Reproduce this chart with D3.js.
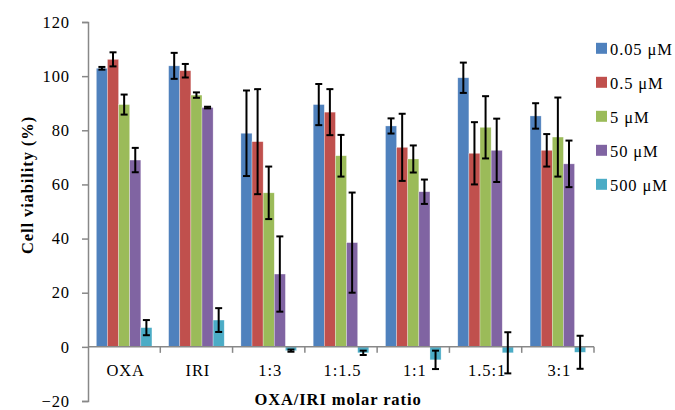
<!DOCTYPE html>
<html>
<head>
<meta charset="utf-8">
<script src="https://cdn.jsdelivr.net/npm/d3@7"></script>
<style>
	body { margin: 0; background: #fff; }
	text { font-family: "Liberation Serif", "Times New Roman", serif; fill: #000; letter-spacing: 0.9px; }
</style>
</head>
<body>
<script>

// Category names (molar ratios)
var categories = ["OXA", "IRI", "1:3", "1:1.5", "1:1", "1.5:1", "3:1"];

// Series names (concentrations)
var seriesNames = ["0.05 \u03bcM", "0.5 \u03bcM", "5 \u03bcM", "50 \u03bcM", "500 \u03bcM"];

// Mean cell viability per series, one value per category
var means005 = [102.9, 103.8, 78.9, 89.5, 81.6, 99.4, 85.3];
var means05  = [106.2, 102.0, 75.8, 86.7, 73.7, 71.5, 72.6];
var means5   = [89.5, 93.0, 56.9, 70.6, 69.4, 81.1, 77.5];
var means50  = [69.0, 88.4, 26.9, 38.5, 57.3, 72.6, 67.6];
var means500 = [7.1, 9.9, -1.4, -2.2, -4.8, -2.2, -2.0];

// Error (+/-) per series
var err005 = [0.5, 4.8, 15.8, 7.6, 2.8, 5.6, 4.7];
var err05  = [2.6, 2.5, 19.4, 8.5, 12.4, 11.5, 6.0];
var err5   = [3.7, 1.0, 9.7, 7.7, 5.0, 11.5, 14.6];
var err50  = [4.5, 0.3, 13.9, 18.5, 4.5, 11.7, 8.6];
var err500 = [2.8, 4.4, 0.4, 0.8, 3.4, 7.6, 6.1];

// Y axis ticks
var yTicks = [-20, 0, 20, 40, 60, 80, 100, 120];

var seriesColors = ["#4F81BD", "#C0504D", "#9BBB59", "#8064A2", "#4BACC6"];

var allMeans = [means005, means05, means5, means50, means500];
var allErrs = [err005, err05, err5, err50, err500];


const width = 675;
const height = 410;
const FONT = 16.5;

var canvas = d3.select('body')
	.append('svg')
	.attr('width', width)
	.attr('height', height);

var plot = { left: 88, right: 594, top: 22, bottom: 401 };

// scales
var xScale = d3.scaleBand().domain(categories).range([plot.left, plot.right]);
var xInner = d3.scaleBand().domain(seriesNames)
	.range([0, xScale.bandwidth()])
	.paddingInner(0)
	.paddingOuter(0.75);
var yScale = d3.scaleLinear().domain([-20, 120]).range([plot.bottom, plot.top]);

// flatten into bar records
var bars = [];
seriesNames.forEach(function(s, si) {
	categories.forEach(function(c, ci) {
		bars.push({ cat: c, series: s, si: si, value: allMeans[si][ci], err: allErrs[si][ci] });
	});
});

// y-axis
var yAxis = d3.axisLeft(yScale).tickValues(yTicks).tickSize(6).tickPadding(12);
var yAxisGroup = canvas.append('g')
	.attr('transform', `translate(${plot.left},0)`)
	.call(yAxis);
yAxisGroup.select('.domain').attr('stroke', '#888').attr('stroke-width', 1.5);
yAxisGroup.selectAll('.tick line').attr('stroke', '#888').attr('stroke-width', 1.5);
yAxisGroup.selectAll('.tick text')
	.attr('font-size', FONT)
	.style('font-family', '"Liberation Serif", serif');

// bars
canvas.append('g').selectAll('rect')
	.data(bars)
	.enter().append('rect')
	.attr('x', d => xScale(d.cat) + xInner(d.series))
	.attr('width', xInner.bandwidth())
	.attr('y', d => yScale(Math.max(0, d.value)))
	.attr('height', d => Math.abs(yScale(d.value) - yScale(0)))
	.attr('fill', d => seriesColors[d.si])
	.attr('stroke', 'rgba(255,255,255,0.5)')
	.attr('stroke-width', 0.6);

// x-axis (at zero line, ticks at category boundaries)
var xAxisGroup = canvas.append('g');
xAxisGroup.append('line')
	.attr('x1', plot.left).attr('x2', plot.right)
	.attr('y1', yScale(0)).attr('y2', yScale(0))
	.attr('stroke', '#888').attr('stroke-width', 1.5);
xAxisGroup.selectAll('.xtick')
	.data(categories)
	.enter().append('line')
	.attr('x1', d => xScale(d) + xScale.bandwidth())
	.attr('x2', d => xScale(d) + xScale.bandwidth())
	.attr('y1', yScale(0)).attr('y2', yScale(0) + 6)
	.attr('stroke', '#888').attr('stroke-width', 1.5);
xAxisGroup.selectAll('.xlabel')
	.data(categories)
	.enter().append('text')
	.attr('x', d => xScale(d) + xScale.bandwidth() / 2 + 1.5)
	.attr('y', yScale(0) + 29)
	.attr('text-anchor', 'middle')
	.attr('font-size', FONT)
	.text(d => d);

// error bars
var errGroup = canvas.append('g').attr('stroke', '#000').attr('stroke-width', 2);
bars.forEach(function(d) {
	var cx = xScale(d.cat) + xInner(d.series) + xInner.bandwidth() / 2;
	var yHi = yScale(d.value + d.err);
	var yLo = yScale(d.value - d.err);
	errGroup.append('line').attr('x1', cx).attr('x2', cx).attr('y1', yHi).attr('y2', yLo);
	errGroup.append('line').attr('x1', cx - 3.5).attr('x2', cx + 3.5).attr('y1', yHi).attr('y2', yHi);
	errGroup.append('line').attr('x1', cx - 3.5).attr('x2', cx + 3.5).attr('y1', yLo).attr('y2', yLo);
});

// axis titles
canvas.append('text')
	.attr('transform', 'translate(33,185) rotate(-90)')
	.attr('text-anchor', 'middle')
	.attr('font-size', FONT)
	.attr('font-weight', 'bold')
	.text('Cell viability (%)');

canvas.append('text')
	.attr('x', 338)
	.attr('y', 405)
	.attr('text-anchor', 'middle')
	.attr('font-size', FONT)
	.attr('font-weight', 'bold')
	.text('OXA/IRI molar ratio');

// legend
var legend = canvas.append('g').selectAll('g')
	.data(seriesNames)
	.enter().append('g')
	.attr('transform', (d, i) => `translate(596,${48.3 + i * 34})`);
legend.append('rect')
	.attr('x', 0).attr('y', -5.5)
	.attr('width', 11).attr('height', 11)
	.attr('fill', (d, i) => seriesColors[i]);
legend.append('text')
	.attr('x', 14)
	.attr('y', 6.5)
	.attr('font-size', FONT)
	.text(d => d);

</script>
</body>
</html>
